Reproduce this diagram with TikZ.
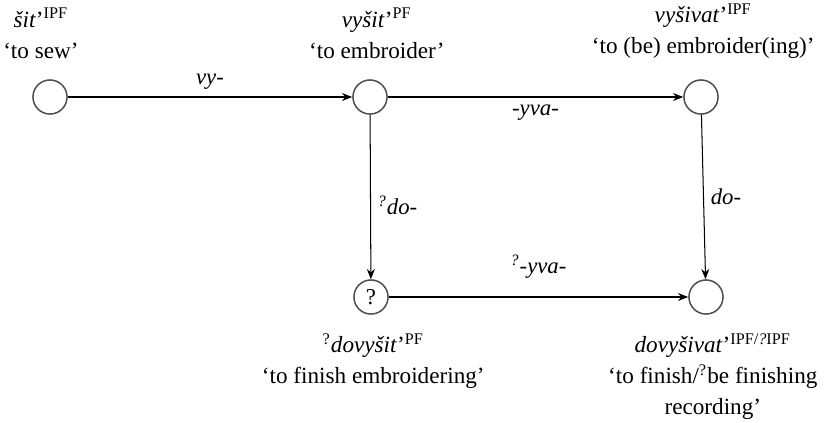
\documentclass[tikz,border=0pt]{standalone}
\usepackage{fontspec}
\setmainfont{Liberation Serif}
\usetikzlibrary{positioning,arrows.meta}

\begin{document}
\begin{tikzpicture}[
		x=0.44pt, y=0.44pt,
		stem/.style={circle,draw=black!70,line width=0.65pt,minimum size=15pt,inner sep=0pt},
		gloss/.style={align=center,inner sep=1pt,font=\fontsize{10.2}{13.6}\selectfont},
		deriv/.style={-{Stealth[length=4.5pt,width=3.5pt]},line width=0.45pt},
		affix/.style={font=\itshape,inner sep=3pt}
		]
		% bounding box
		\useasboundingbox (0,0) rectangle (830,-422);
		% stems
		\node[stem] (sit) at (50,-97) {};
		\node[stem] (vysit) at (370,-97) {};
		\node[stem] (vysivat) at (701,-97) {};
		\node[stem] (dovysit) at (371,-297) {?};
		\node[stem] (dovysivat) at (706,-297) {};
		% glosses
		\node[gloss,above=8pt of sit,xshift=-4pt] (sitlab) {\textit{šit}’\textsuperscript{IPF}\\‘to sew’};
		\node[gloss,above=8pt of vysit,xshift=3pt] (vysitlab) {\textit{vyšit}’\textsuperscript{PF}\\‘to embroider’};
		\node[gloss,above=8pt of vysivat,xshift=1pt] (vysivatlab) {\textit{vyšivat}’\textsuperscript{IPF}\\‘to (be) embroider(ing)’};
		\node[gloss,below=7pt of dovysit,xshift=1pt] (dovysitlab) {\textsuperscript{?}\textit{dovyšit}’\textsuperscript{PF}\\‘to finish embroidering’};
		\node[gloss,below=7pt of dovysivat,xshift=3pt] (dovysivatlab) {\textit{dovyšivat}’\textsuperscript{IPF/\textit{?}IPF}\\‘to finish/\textsuperscript{?}be finishing\\recording’};
		% derivations
		\draw[deriv] (sit) -- node[affix,above] {vy-} (vysit);
		\draw[deriv] (vysit) -- node[affix,below] {-yva-} (vysivat);
		\draw[deriv] (vysit) -- node[affix,right,pos=0.55] {\textsuperscript{?}do-} (dovysit);
		\draw[deriv] (vysivat) -- node[affix,right] {do-} (dovysivat);
		\draw[deriv] (dovysit) -- node[affix,above,yshift=5pt] {\textsuperscript{?}-yva-} (dovysivat);
	\end{tikzpicture}
\end{document}
